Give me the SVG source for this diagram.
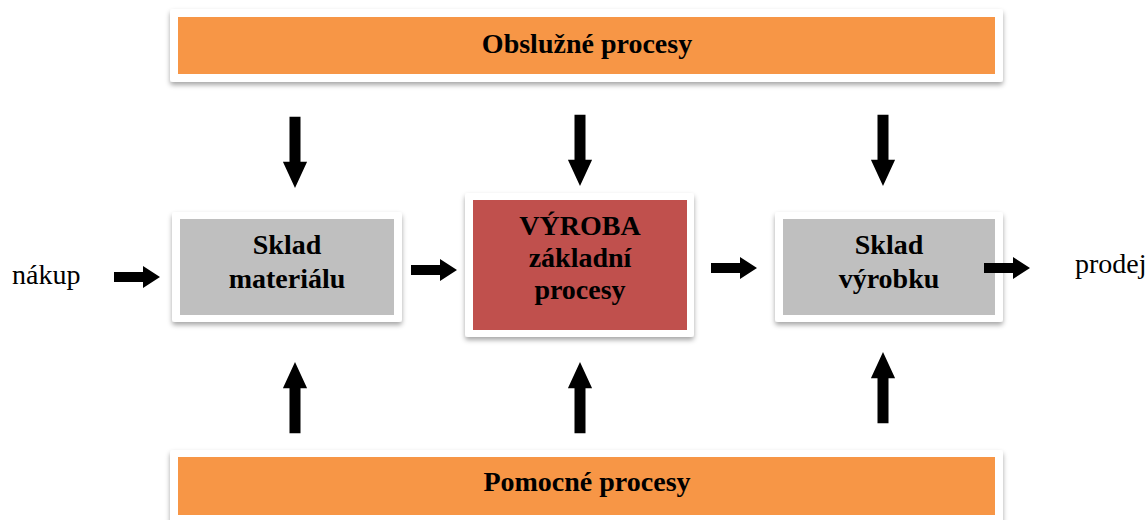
<svg xmlns="http://www.w3.org/2000/svg" width="1148" height="520" viewBox="0 0 1148 520">
  <defs>
    <filter id="shadow" x="-10%" y="-20%" width="120%" height="150%">
      <feDropShadow dx="0" dy="3" stdDeviation="2.5" flood-color="#000" flood-opacity="0.35"/>
    </filter>
    <!-- block arrow pointing right, tip at origin -->
    <path id="arr" d="M-46,-5 H-17 V-11 L0,0 L-17,11 V5 H-46 Z"/>
  </defs>
  <style>
    .frame { fill: #ffffff; filter: url(#shadow); }
    .orange { fill: #F79646; }
    .gray { fill: #BFBFBF; }
    .red { fill: #C0504D; }
    .lbl { font-family: "Liberation Serif", "Times New Roman", serif; font-weight: bold; font-size: 28px; fill: #000; text-anchor: middle; }
    .side { font-family: "Liberation Serif", "Times New Roman", serif; font-size: 28px; fill: #000; }
    .arrows use { fill: #000; }
  </style>

  <rect width="1148" height="520" fill="#ffffff"/>

  <g id="obsluzne">
    <rect class="frame" x="170" y="9" width="833" height="73" rx="3"/>
    <rect class="orange" x="178" y="17" width="817" height="57"/>
    <text class="lbl" x="587" y="53">Obslužné procesy</text>
  </g>

  <g id="sklad-materialu">
    <rect class="frame" x="172" y="212" width="230" height="110" rx="3"/>
    <rect class="gray" x="180" y="219" width="214" height="96"/>
    <text class="lbl" x="287" y="254">Sklad</text>
    <text class="lbl" x="287" y="288">materiálu</text>
  </g>

  <g id="vyroba">
    <rect class="frame" x="465" y="193" width="229" height="144" rx="3"/>
    <rect class="red" x="473" y="200" width="214" height="130"/>
    <text class="lbl" x="580" y="235">VÝROBA</text>
    <text class="lbl" x="580" y="267">základní</text>
    <text class="lbl" x="580" y="299">procesy</text>
  </g>

  <g id="sklad-vyrobku">
    <rect class="frame" x="775" y="212" width="228" height="110" rx="3"/>
    <rect class="gray" x="783" y="219" width="212" height="96"/>
    <text class="lbl" x="889" y="254">Sklad</text>
    <text class="lbl" x="889" y="288">výrobku</text>
  </g>

  <g id="pomocne">
    <rect class="frame" x="170" y="450" width="833" height="75" rx="3"/>
    <rect class="orange" x="178" y="457" width="817" height="58"/>
    <text class="lbl" x="587" y="491">Pomocné procesy</text>
  </g>

  <g id="nakup">
    <text class="side" x="12" y="284">nákup</text>
  </g>
  <g id="prodej">
    <text class="side" x="1075" y="273">prodej</text>
  </g>

  <g id="connectors" class="arrows">
    <!-- inputs from service processes -->
    <use href="#arr" transform="translate(295,188) rotate(90) scale(1.55,1.1)"/>
    <use href="#arr" transform="translate(580,186) rotate(90) scale(1.55,1.1)"/>
    <use href="#arr" transform="translate(883,186) rotate(90) scale(1.55,1.1)"/>
    <!-- inputs from auxiliary processes -->
    <use href="#arr" transform="translate(295,362) rotate(-90) scale(1.55,1.1)"/>
    <use href="#arr" transform="translate(580,362) rotate(-90) scale(1.55,1.1)"/>
    <use href="#arr" transform="translate(883,352) rotate(-90) scale(1.55,1.1)"/>
    <!-- main material flow -->
    <use href="#arr" transform="translate(160,277)"/>
    <use href="#arr" transform="translate(457,270)"/>
    <use href="#arr" transform="translate(757,268)"/>
    <use href="#arr" transform="translate(1030,268)"/>
  </g>
</svg>
